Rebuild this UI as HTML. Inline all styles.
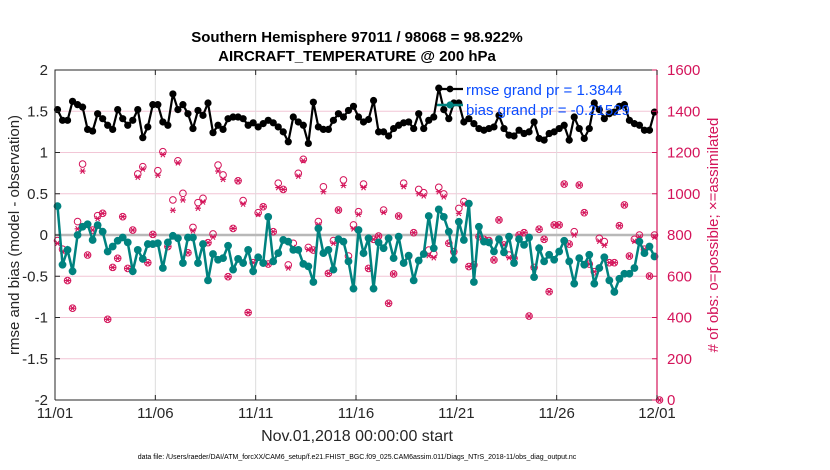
<!DOCTYPE html>
<html><head><meta charset="utf-8"><style>
body{margin:0;background:#fff;font-family:"Liberation Sans",sans-serif}
svg{display:block}
</style></head><body>
<svg id="chart" width="830" height="470" xmlns="http://www.w3.org/2000/svg" font-family="Liberation Sans, sans-serif"></svg>
<script>
const rmse=[1.52,1.39,1.39,1.62,1.58,1.55,1.28,1.26,1.47,1.41,1.33,1.28,1.52,1.41,1.33,1.39,1.52,1.18,1.31,1.58,1.58,1.37,1.33,1.71,1.52,1.58,1.47,1.29,1.51,1.45,1.60,
1.24,1.33,1.28,1.41,1.43,1.43,1.41,1.33,1.36,1.31,1.35,1.39,1.36,1.31,1.25,1.13,1.43,1.37,1.33,1.11,1.61,1.31,1.28,1.28,1.39,1.47,1.43,1.51,1.56,1.43,
1.37,1.40,1.63,1.25,1.25,1.20,1.29,1.33,1.36,1.37,1.29,1.47,1.29,1.39,1.43,1.78,1.52,1.41,1.60,1.60,1.37,1.41,1.35,1.29,1.27,1.29,1.31,1.45,1.29,1.21,
1.20,1.27,1.23,1.25,1.37,1.17,1.15,1.23,1.25,1.29,1.33,1.15,1.43,1.29,1.17,1.29,1.60,1.52,1.41,1.47,1.49,1.56,1.58,1.39,1.35,1.33,1.27,1.27,1.49];
const bias=[0.35,-0.36,-0.18,-0.44,0.00,0.10,0.13,-0.06,0.12,0.04,-0.20,-0.14,-0.07,-0.03,-0.09,-0.44,-0.18,-0.29,-0.11,-0.11,-0.10,-0.40,-0.09,-0.01,-0.04,-0.34,-0.03,-0.03,-0.34,-0.11,-0.55,
-0.23,-0.30,-0.28,-0.13,-0.42,-0.29,-0.34,-0.18,-0.44,-0.27,-0.34,0.22,-0.32,-0.22,-0.06,-0.08,-0.18,-0.18,-0.35,-0.38,-0.57,0.08,-0.22,-0.18,-0.42,-0.05,-0.08,-0.32,-0.65,0.06,
-0.22,-0.04,-0.65,-0.09,-0.16,-0.04,-0.28,-0.02,-0.34,-0.25,-0.55,-0.31,-0.23,0.23,-0.16,0.31,0.22,0.04,-0.30,0.16,-0.06,0.38,-0.57,0.10,-0.08,-0.09,-0.20,-0.05,-0.21,-0.02,
-0.34,-0.05,-0.12,-0.03,-0.51,-0.16,-0.32,-0.24,-0.30,-0.20,-0.07,-0.32,-0.59,-0.28,-0.36,-0.24,-0.59,-0.40,-0.27,-0.55,-0.69,-0.53,-0.47,-0.47,-0.40,-0.08,-0.22,-0.14,-0.26];
const nposs=[773,731,579,445,865,1144,703,824,894,905,391,643,687,889,638,824,1096,1131,666,803,1112,1204,744,970,1160,1002,714,837,957,978,763,
805,1139,1091,598,832,1063,967,424,666,908,937,659,816,1051,1021,655,760,1099,1167,740,727,865,1034,614,773,921,1067,698,849,913,
1047,638,779,795,921,469,611,892,1051,698,811,1021,1005,727,708,1031,999,760,719,929,962,647,655,792,779,773,679,873,752,703,
687,800,811,407,643,828,779,525,849,849,1047,756,816,1042,908,659,622,784,768,666,666,845,946,698,779,800,731,601,800,0];
const nused=[760,720,579,445,830,1110,703,824,880,905,391,643,687,889,638,824,1080,1120,666,803,1090,1190,744,920,1150,970,714,820,930,960,763,
790,1110,1070,598,832,1063,950,424,666,900,937,659,816,1030,1021,640,740,1085,1160,730,727,850,1010,614,760,921,1040,680,830,900,
1030,638,779,795,910,469,611,892,1035,698,811,1000,990,700,690,1010,985,760,719,905,950,647,655,792,779,773,679,873,752,690,
687,800,811,407,643,828,779,525,849,849,1047,756,800,1042,908,659,622,770,750,666,666,845,946,698,770,790,731,601,790,0];
const xTicks=["11/01","11/06","11/11","11/16","11/21","11/26","12/01"];
const yLeftTicks=[-2,-1.5,-1,-0.5,0,0.5,1,1.5,2];
const yRightTicks=[0,200,400,600,800,1000,1200,1400,1600];

const svg=document.getElementById('chart');
const NS="http://www.w3.org/2000/svg";
const X0=55,X1=657,Y0=400,Y1=70;
const xs=d=>X0+(X1-X0)*d/30;
const tX=i=>xs(0.125+0.25*i);
const yL=v=>Y0-(v+2)/4*(Y0-Y1);
const yR=v=>Y0-v/1600*(Y0-Y1);
const PINK="#d4145a",TEAL="#00827f";
function el(t,a,p){const e=document.createElementNS(NS,t);for(const k in a)e.setAttribute(k,a[k]);(p||svg).appendChild(e);return e;}
function txt(s,a,p){const e=el('text',a,p);e.textContent=s;return e;}

yRightTicks.forEach((v,i)=>{if(i>0&&i<8){const l=el('line',{x1:X0,x2:X1,y1:yR(v),y2:yR(v),stroke:"#f2c6d6","stroke-width":1});

}});
xTicks.forEach((t,i)=>{if(i>0&&i<6){const l=el('line',{x1:xs(i*5),x2:xs(i*5),y1:Y1,y2:Y0,stroke:"#dcdcdc","stroke-width":1});

}});
const zl=el('line',{x1:X0,x2:X1,y1:yL(0),y2:yL(0),stroke:"#b8b8b8","stroke-width":2.5});



const obsG=el('g',{});


nposs.forEach((v,i)=>{const c=el('circle',{cx:tX(i),cy:yR(v),r:3.3,fill:"none",stroke:PINK,"stroke-width":1},obsG);

});
nused.forEach((v,i)=>{const x=tX(i),y=yR(v);const g=el('g',{stroke:PINK,"stroke-width":1.1},obsG);


el('line',{x1:x-3,x2:x+3,y1:y,y2:y},g);el('line',{x1:x-2,x2:x+2,y1:y-2.6,y2:y+2.6},g);el('line',{x1:x+2,x2:x-2,y1:y-2.6,y2:y+2.6},g);});

const bp=el('polyline',{points:bias.map((v,i)=>tX(i)+","+yL(v)).join(" "),fill:"none",stroke:TEAL,"stroke-width":2.5});


bias.forEach((v,i)=>{const c=el('circle',{cx:tX(i),cy:yL(v),r:3.9,fill:TEAL});

});
const rp=el('polyline',{points:rmse.map((v,i)=>tX(i)+","+yL(v)).join(" "),fill:"none",stroke:"#000","stroke-width":2.2});


rmse.forEach((v,i)=>{const c=el('circle',{cx:tX(i),cy:yL(v),r:3.6,fill:"#000"});

});

const fr=el('path',{d:`M${X0},${Y0}V${Y1}H${X1}M${X0},${Y0}H${X1}`,fill:"none",stroke:"#262626","stroke-width":1});


const ra=el('line',{x1:X1,x2:X1,y1:Y1,y2:Y0,stroke:PINK,"stroke-width":1.2});



yLeftTicks.forEach(v=>{const y=yL(v);el('line',{x1:X0,x2:X0+5,y1:y,y2:y,stroke:"#262626"});
const t=txt(String(v),{x:X0-7,y:y+5,"text-anchor":"end","font-size":15,fill:"#262626"});

});
yRightTicks.forEach(v=>{const y=yR(v);el('line',{x1:X1-5,x2:X1,y1:y,y2:y,stroke:PINK});
const t=txt(String(v),{x:X1+10,y:y+5,"font-size":15,fill:PINK});

});
xTicks.forEach((s,i)=>{const x=xs(i*5);el('line',{x1:x,x2:x,y1:Y0,y2:Y0-5,stroke:"#262626"});el('line',{x1:x,x2:x,y1:Y1,y2:Y1+5,stroke:"#262626"});
const t=txt(s,{x:x,y:418,"text-anchor":"middle","font-size":15,fill:"#262626"});

});

const lg=el('g',{});


el('line',{x1:437,x2:463,y1:89,y2:89,stroke:"#000","stroke-width":2.2},lg);el('circle',{cx:450,cy:89,r:3.4,fill:"#000"},lg);
el('line',{x1:437,x2:463,y1:105,y2:105,stroke:TEAL,"stroke-width":2.5},lg);el('circle',{cx:450,cy:105,r:3.6,fill:TEAL},lg);
const l1=txt("rmse grand pr = 1.3844",{x:466,y:95,"font-size":15,fill:"#0a4dff"},lg);


const l2=txt("bias grand pr = -0.21529",{x:466,y:115,"font-size":15,fill:"#0a4dff"},lg);



const t1=txt("Southern Hemisphere 97011 / 98068 = 98.922%",{x:357,y:42,"text-anchor":"middle","font-size":15,"font-weight":"bold",fill:"#000"});


const t2=txt("AIRCRAFT_TEMPERATURE @ 200 hPa",{x:357,y:61,"text-anchor":"middle","font-size":15,"font-weight":"bold",fill:"#000"});


const xt=txt("Nov.01,2018 00:00:00 start",{x:357,y:441,"text-anchor":"middle","font-size":16,fill:"#262626"});


const yt=txt("rmse and bias (model - observation)",{x:0,y:0,"text-anchor":"middle","font-size":15,fill:"#262626",transform:`translate(19,235) rotate(-90)`});


const yt2=txt("# of obs: o=possible; \u00d7=assimilated",{x:0,y:0,"text-anchor":"middle","font-size":15,fill:PINK,transform:`translate(718,235) rotate(-90)`});


const ft=txt("data file: /Users/raeder/DAI/ATM_forcXX/CAM6_setup/f.e21.FHIST_BGC.f09_025.CAM6assim.011/Diags_NTrS_2018-11/obs_diag_output.nc",{x:357,y:459,"text-anchor":"middle","font-size":7,fill:"#000"});


</script>
</body></html>
